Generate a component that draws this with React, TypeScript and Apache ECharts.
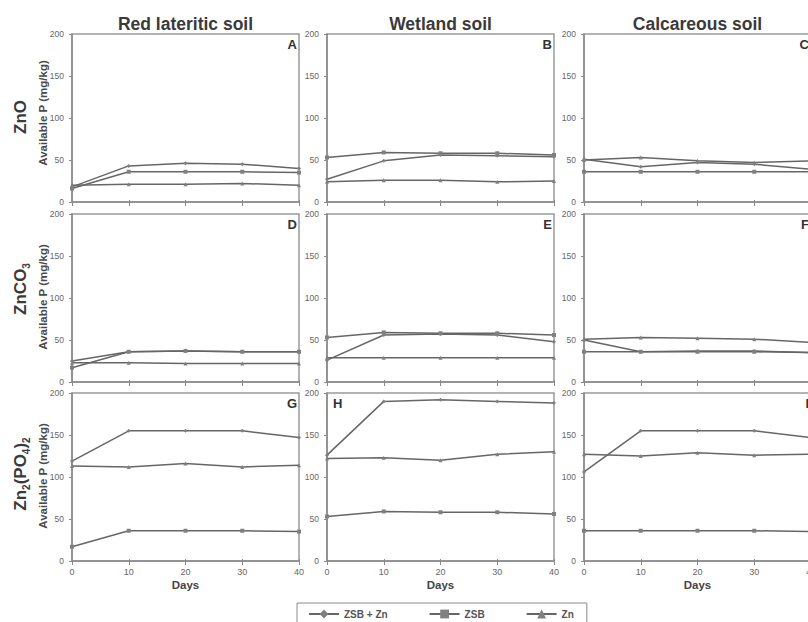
import React, { useEffect, useRef } from "react";
import * as echarts from "echarts";

const days = [0, 10, 20, 30, 40];
const soils = ["Red lateritic soil", "Wetland soil", "Calcareous soil"];
const sources = ["ZnO", "ZnCO3", "Zn2(PO4)2"];
const seriesNames = ["ZSB + Zn", "ZSB", "Zn"];
const yTicks = [0, 50, 100, 150, 200];
const panelLetters = ["A", "B", "C", "D", "E", "F", "G", "H", "I"];

// [row][col] values
const zsbZn = [
  [[18, 43, 46, 45, 40], [27, 49, 56, 55, 54], [51, 42, 47, 45, 39]],
  [[25, 36, 37, 36, 36], [26, 56, 57, 56, 48], [50, 36, 37, 37, 35]],
  [[119, 155, 155, 155, 147], [126, 190, 192, 190, 188], [106, 155, 155, 155, 147]],
];
const zsb = [
  [[16, 36, 36, 36, 35], [53, 59, 58, 58, 56], [36, 36, 36, 36, 36]],
  [[17, 36, 37, 36, 36], [53, 59, 58, 58, 56], [36, 36, 36, 36, 35]],
  [[17, 36, 36, 36, 35], [53, 59, 58, 58, 56], [36, 36, 36, 36, 35]],
];
const zn = [
  [[20, 21, 21, 22, 20], [24, 26, 26, 24, 25], [50, 53, 49, 47, 49]],
  [[23, 23, 22, 22, 22], [29, 29, 29, 29, 29], [51, 53, 52, 51, 47]],
  [[113, 112, 116, 112, 114], [122, 123, 120, 127, 130], [127, 125, 129, 126, 127]],
];

const colLeft = [72, 327, 584];
const rowTop = [34, 214, 393];
const gw = 227;
const gh = 168;
const FONT = "'Liberation Sans', Arial, sans-serif";

export default function App() {
  const ref = useRef<HTMLDivElement>(null);
  useEffect(() => {
    if (!ref.current) return;
    const chart = echarts.init(ref.current, undefined, { renderer: "svg" });
    const grids: any[] = [];
    const xAxes: any[] = [];
    const yAxes: any[] = [];
    const series: any[] = [];
    const graphics: any[] = [];
    const lineColor = "#666";
    const symbols = ["diamond", "rect", "triangle"];
    const dataSets = [zsbZn, zsb, zn];
    for (let r = 0; r < 3; r++) {
      for (let c = 0; c < 3; c++) {
        grids.push({
          left: colLeft[c],
          top: rowTop[r],
          width: gw,
          height: gh,
          show: true,
          borderColor: "#9a9a9a",
          borderWidth: 1.5,
          backgroundColor: "#fff",
          outerBoundsMode: "none",
          containLabel: false,
        });
      }
    }
    for (let r = 0; r < 3; r++) {
      for (let c = 0; c < 3; c++) {
        const idx = r * 3 + c;
        xAxes.push({
          type: "value",
          gridIndex: idx,
          position: "bottom",
          min: 0,
          max: 40,
          interval: 10,
          axisLine: { show: true, lineStyle: { color: "#8a8a8a", width: 1.5 } },
          axisTick: { show: true, length: 4, lineStyle: { color: "#8a8a8a" } },
          axisLabel: {
            show: r === 2,
            fontSize: 9,
            color: "#666",
            margin: 6,
            fontFamily: FONT,
          },
          splitLine: { show: false },
        });
        yAxes.push({
          type: "value",
          gridIndex: idx,
          min: 0,
          max: 200,
          interval: 50,
          axisLine: { show: true, lineStyle: { color: "#8a8a8a", width: 1.5 } },
          axisTick: { show: true, length: 3, lineStyle: { color: "#8a8a8a" } },
          axisLabel: { fontSize: 8.5, color: "#666", margin: 8, fontFamily: FONT },
          splitLine: { show: false },
        });
        for (let s = 0; s < 3; s++) {
          const vals = dataSets[s][r][c];
          series.push({
            type: "line",
            name: seriesNames[s],
            xAxisIndex: idx,
            yAxisIndex: idx,
            data: days.map((d, i) => [d, vals[i]]),
            symbol: symbols[s],
            symbolSize: 4,
            lineStyle: { color: lineColor, width: 1.5 },
            itemStyle: { color: "#808080" },
            silent: true,
          });
        }
        const isH = panelLetters[idx] === "H";
        graphics.push({
          type: "text",
          x: isH ? colLeft[c] + 6 : colLeft[c] + gw - 2,
          y: rowTop[r] + 4,
          z: 100,
          style: {
            text: panelLetters[idx],
            fontSize: 13,
            fontWeight: "bold",
            fill: "#333",
            fontFamily: FONT,
            align: isH ? "left" : "right",
            verticalAlign: "top",
          },
        });
      }
    }
    // inside tick marks on x axes (ticks cross the axis line)
    for (let idx = 0; idx < 9; idx++) {
      xAxes.push({
        type: "value",
        gridIndex: idx,
        position: "bottom",
        offset: 0,
        min: 0,
        max: 40,
        interval: 10,
        axisLine: { show: false },
        axisTick: { show: true, inside: true, length: 2, lineStyle: { color: "#8a8a8a" } },
        axisLabel: { show: false },
        splitLine: { show: false },
      });
    }
    soils.forEach((t, c) => {
      graphics.push({
        type: "text",
        x: colLeft[c] + gw / 2,
        y: 24,
        style: {
          text: t,
          fontSize: 17.5,
          fontWeight: "bold",
          fill: "#3a3a3a",
          fontFamily: FONT,
          align: "center",
          verticalAlign: "middle",
        },
      });
      graphics.push({
        type: "text",
        x: colLeft[c] + gw / 2,
        y: 585,
        style: {
          text: "Days",
          fontSize: 11.5,
          fontWeight: "bold",
          fill: "#444",
          fontFamily: FONT,
          align: "center",
          verticalAlign: "middle",
        },
      });
    });
    const rowLabelY = [117, 289, 474];
    const availY = [113, 297, 476];
    const rich = {
      a: { fontSize: 17, fontWeight: "bold", fill: "#3a3a3a", fontFamily: FONT, lineHeight: 22, verticalAlign: "middle" },
      s: { fontSize: 10, fontWeight: "bold", fill: "#3a3a3a", fontFamily: FONT, lineHeight: 12, verticalAlign: "bottom" },
    };
    const richTexts = ["{a|ZnO}", "{a|ZnCO}{s|3}", "{a|Zn}{s|2}{a|(PO}{s|4}{a|)}{s|2}"];
    for (let r = 0; r < 3; r++) {
      graphics.push({
        type: "text",
        x: 20,
        y: rowLabelY[r],
        rotation: Math.PI / 2,
        style: {
          text: richTexts[r],
          rich,
          align: "center",
          verticalAlign: "middle",
          fontFamily: FONT,
        },
      });
      graphics.push({
        type: "text",
        x: 43,
        y: availY[r],
        rotation: Math.PI / 2,
        style: {
          text: "Available P (mg/kg)",
          fontSize: 11.5,
          fontWeight: "bold",
          fill: "#4a4a4a",
          fontFamily: FONT,
          align: "center",
          verticalAlign: "middle",
        },
      });
    }

    chart.setOption({
      animation: false,
      backgroundColor: "#fff",
      grid: grids,
      xAxis: xAxes,
      yAxis: yAxes,
      series,
      legend: {
        data: seriesNames,
        left: 297,
        top: 603,
        orient: "horizontal",
        itemWidth: 30,
        itemHeight: 11,
        itemGap: 41,
        padding: [6, 13, 6, 11],
        borderColor: "#8a8a8a",
        borderWidth: 1,
        textStyle: { fontSize: 10, fontWeight: "bold", color: "#555", fontFamily: FONT },
        selectedMode: false,
      },
      graphic: { elements: graphics },
    });
    return () => chart.dispose();
  }, []);
  return (
    <div
      ref={ref}
      style={{ position: "absolute", left: 0, top: 0, width: 808, height: 622 }}
    />
  );
}
